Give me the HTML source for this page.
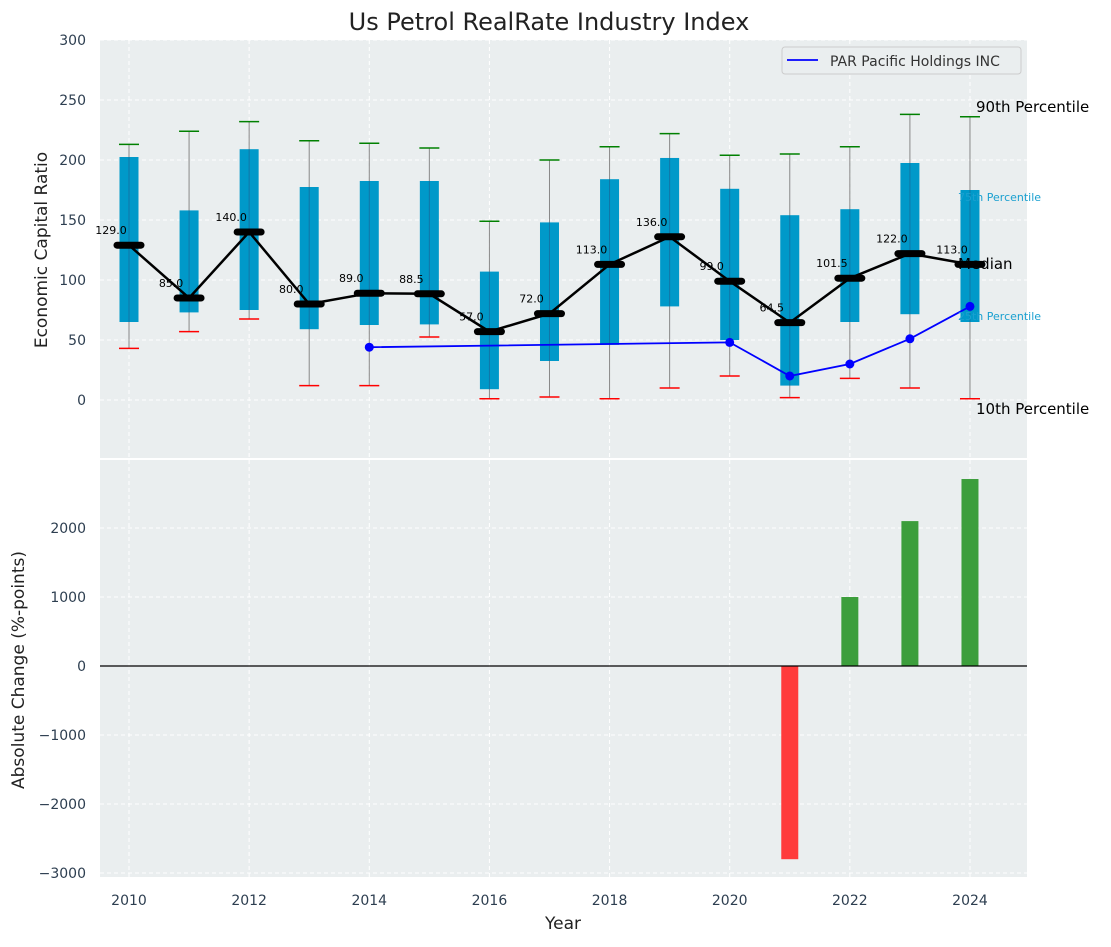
<!DOCTYPE html>
<html><head><meta charset="utf-8"><style>
body{margin:0;background:#fff;}
svg{font-family:"DejaVu Sans","Liberation Sans",sans-serif;}
</style></head><body>
<svg id="c" width="1111" height="942"></svg>
<script>
const years=[2010,2011,2012,2013,2014,2015,2016,2017,2018,2019,2020,2021,2022,2023,2024];
const p90=[213,224,232,216,214,210,149,200,211,222,204,205,211,238,236];
const q75=[202.5,158,209,177.5,182.5,182.5,107,148,184,201.7,176,154,159,197.5,175];
const medians=[129,85,140,80,89,88.5,57,72,113,136,99,64.5,101.5,122,113];
const q25=[65,73,75,59,62.5,63,9,32.5,46,78,50,12,65,71.5,65];
const p10=[43,57,67.5,12,12,52.5,1,2.5,1,10,20,2,18,10,1];
const parYears=[2014,2020,2021,2022,2023,2024];
const parVals=[44,48,20,30,51,78];
const chgYears=[2021,2022,2023,2024];
const chgVals=[-2800,1000,2100,2710];
const topTicks=[0,50,100,150,200,250,300];
const botTicks=[-3000,-2000,-1000,0,1000,2000];
const xTicks=[2010,2012,2014,2016,2018,2020,2022,2024];

const NS="http://www.w3.org/2000/svg";
const svg=document.getElementById('c');
function el(t,a,p){const e=document.createElementNS(NS,t);for(const k in a)e.setAttribute(k,a[k]);(p||svg).appendChild(e);return e;}
const X=y=>129+(y-2010)*60.07;
const YT=v=>400-v*1.2;
const YB=v=>666-v*0.069;
const L=100,R=1027;
let bg=el('rect',{x:L,y:40,width:R-L,height:418,fill:'#eaeeef'});

let bg2=el('rect',{x:L,y:460,width:R-L,height:417,fill:'#eaeeef'});

const g=el('g',{stroke:'#fff','stroke-dasharray':'4,3','stroke-width':1});
topTicks.forEach(t=>el('line',{x1:L,x2:R,y1:YT(t),y2:YT(t)},g));
botTicks.forEach(t=>el('line',{x1:L,x2:R,y1:YB(t),y2:YB(t)},g));
xTicks.forEach(t=>{el('line',{x1:X(t),x2:X(t),y1:40,y2:458},g);el('line',{x1:X(t),x2:X(t),y1:460,y2:877},g);});
topTicks.forEach(t=>{const e=el('text',{x:86,y:YT(t)+5,'text-anchor':'end','font-size':14,fill:'#2d3e50'});e.textContent=t;});
botTicks.forEach(t=>{const e=el('text',{x:86,y:YB(t)+5,'text-anchor':'end','font-size':14,fill:'#2d3e50'});e.textContent=t<0?'\u2212'+(-t):t;});
xTicks.forEach(t=>{const e=el('text',{x:X(t),y:905,'text-anchor':'middle','font-size':14,fill:'#2d3e50'});e.textContent=t;});
years.forEach((y,i)=>{
  const x=X(y);
  let w=el('line',{x1:x,x2:x,y1:YT(p90[i]),y2:YT(p10[i]),stroke:'#888','stroke-width':1});
  
  let b=el('rect',{x:x-9.5,y:YT(q75[i]),width:19,height:YT(q25[i])-YT(q75[i]),fill:'#0099c9'});
  
  el('line',{x1:x,x2:x,y1:YT(q75[i]),y2:YT(q25[i]),stroke:'#336','stroke-width':1,'stroke-opacity':0.35});
  let c1=el('line',{x1:x-10,x2:x+10,y1:YT(p90[i]),y2:YT(p90[i]),stroke:'green','stroke-width':1.5});
  
  let c2=el('line',{x1:x-10,x2:x+10,y1:YT(p10[i]),y2:YT(p10[i]),stroke:'red','stroke-width':1.5});
  
});
let mp=el('polyline',{points:years.map((y,i)=>X(y)+','+YT(medians[i])).join(' '),fill:'none',stroke:'#000','stroke-width':2.5});

years.forEach((y,i)=>{
  let m=el('line',{x1:X(y)-12,x2:X(y)+12,y1:YT(medians[i]),y2:YT(medians[i]),stroke:'#000','stroke-width':7,'stroke-linecap':'round'});
  
  let t=el('text',{x:X(y)-18,y:YT(medians[i])-11,'text-anchor':'middle','font-size':11,fill:'#000'});
  t.textContent=medians[i].toFixed(1);
  
});
let pl=el('polyline',{points:parYears.map((y,i)=>X(y)+','+YT(parVals[i])).join(' '),fill:'none',stroke:'#0000ff','stroke-width':1.8});

parYears.forEach((y,i)=>{let c=el('circle',{cx:X(y),cy:YT(parVals[i]),r:4.5,fill:'#0000ff'});});
[['90th Percentile',976,112,15,'#000'],['75th Percentile',958,201,11,'#1aa0d0'],['Median',958,269,15,'#000'],['25th Percentile',958,320,11,'#1aa0d0'],['10th Percentile',976,414,15,'#000']].forEach(a=>{
  const e=el('text',{x:a[1],y:a[2],'font-size':a[3],fill:a[4]});e.textContent=a[0];
  
});
const lg=el('g',{});

el('rect',{x:782,y:47,width:239,height:27,rx:3,fill:'#eaeeef',stroke:'#ccc'},lg);
el('line',{x1:787,x2:818,y1:60,y2:60,stroke:'#0000ff','stroke-width':1.8},lg);
const lt=el('text',{x:830,y:66,'font-size':14,fill:'#333'},lg);lt.textContent='PAR Pacific Holdings INC';
chgYears.forEach((y,i)=>{
  const v=chgVals[i];
  let b=el('rect',{x:X(y)-8.5,y:Math.min(YB(v),YB(0)),width:17,height:Math.abs(YB(v)-YB(0)),fill:v<0?'#ff3b3b':'#3c9e3c'});
  
});
let z=el('line',{x1:L,x2:R,y1:YB(0),y2:YB(0),stroke:'#000','stroke-width':1.2});

let t1=el('text',{x:549,y:30,'text-anchor':'middle','font-size':24,fill:'#222'});t1.textContent='Us Petrol RealRate Industry Index';

let t2=el('text',{x:0,y:0,'text-anchor':'middle','font-size':17,fill:'#222',transform:'translate(47,250) rotate(-90)'});t2.textContent='Economic Capital Ratio';

let t3=el('text',{x:0,y:0,'text-anchor':'middle','font-size':17,fill:'#222',transform:'translate(24,670) rotate(-90)'});t3.textContent='Absolute Change (%-points)';

let t4=el('text',{x:563,y:929,'text-anchor':'middle','font-size':17,fill:'#222'});t4.textContent='Year';

</script>
</body></html>
